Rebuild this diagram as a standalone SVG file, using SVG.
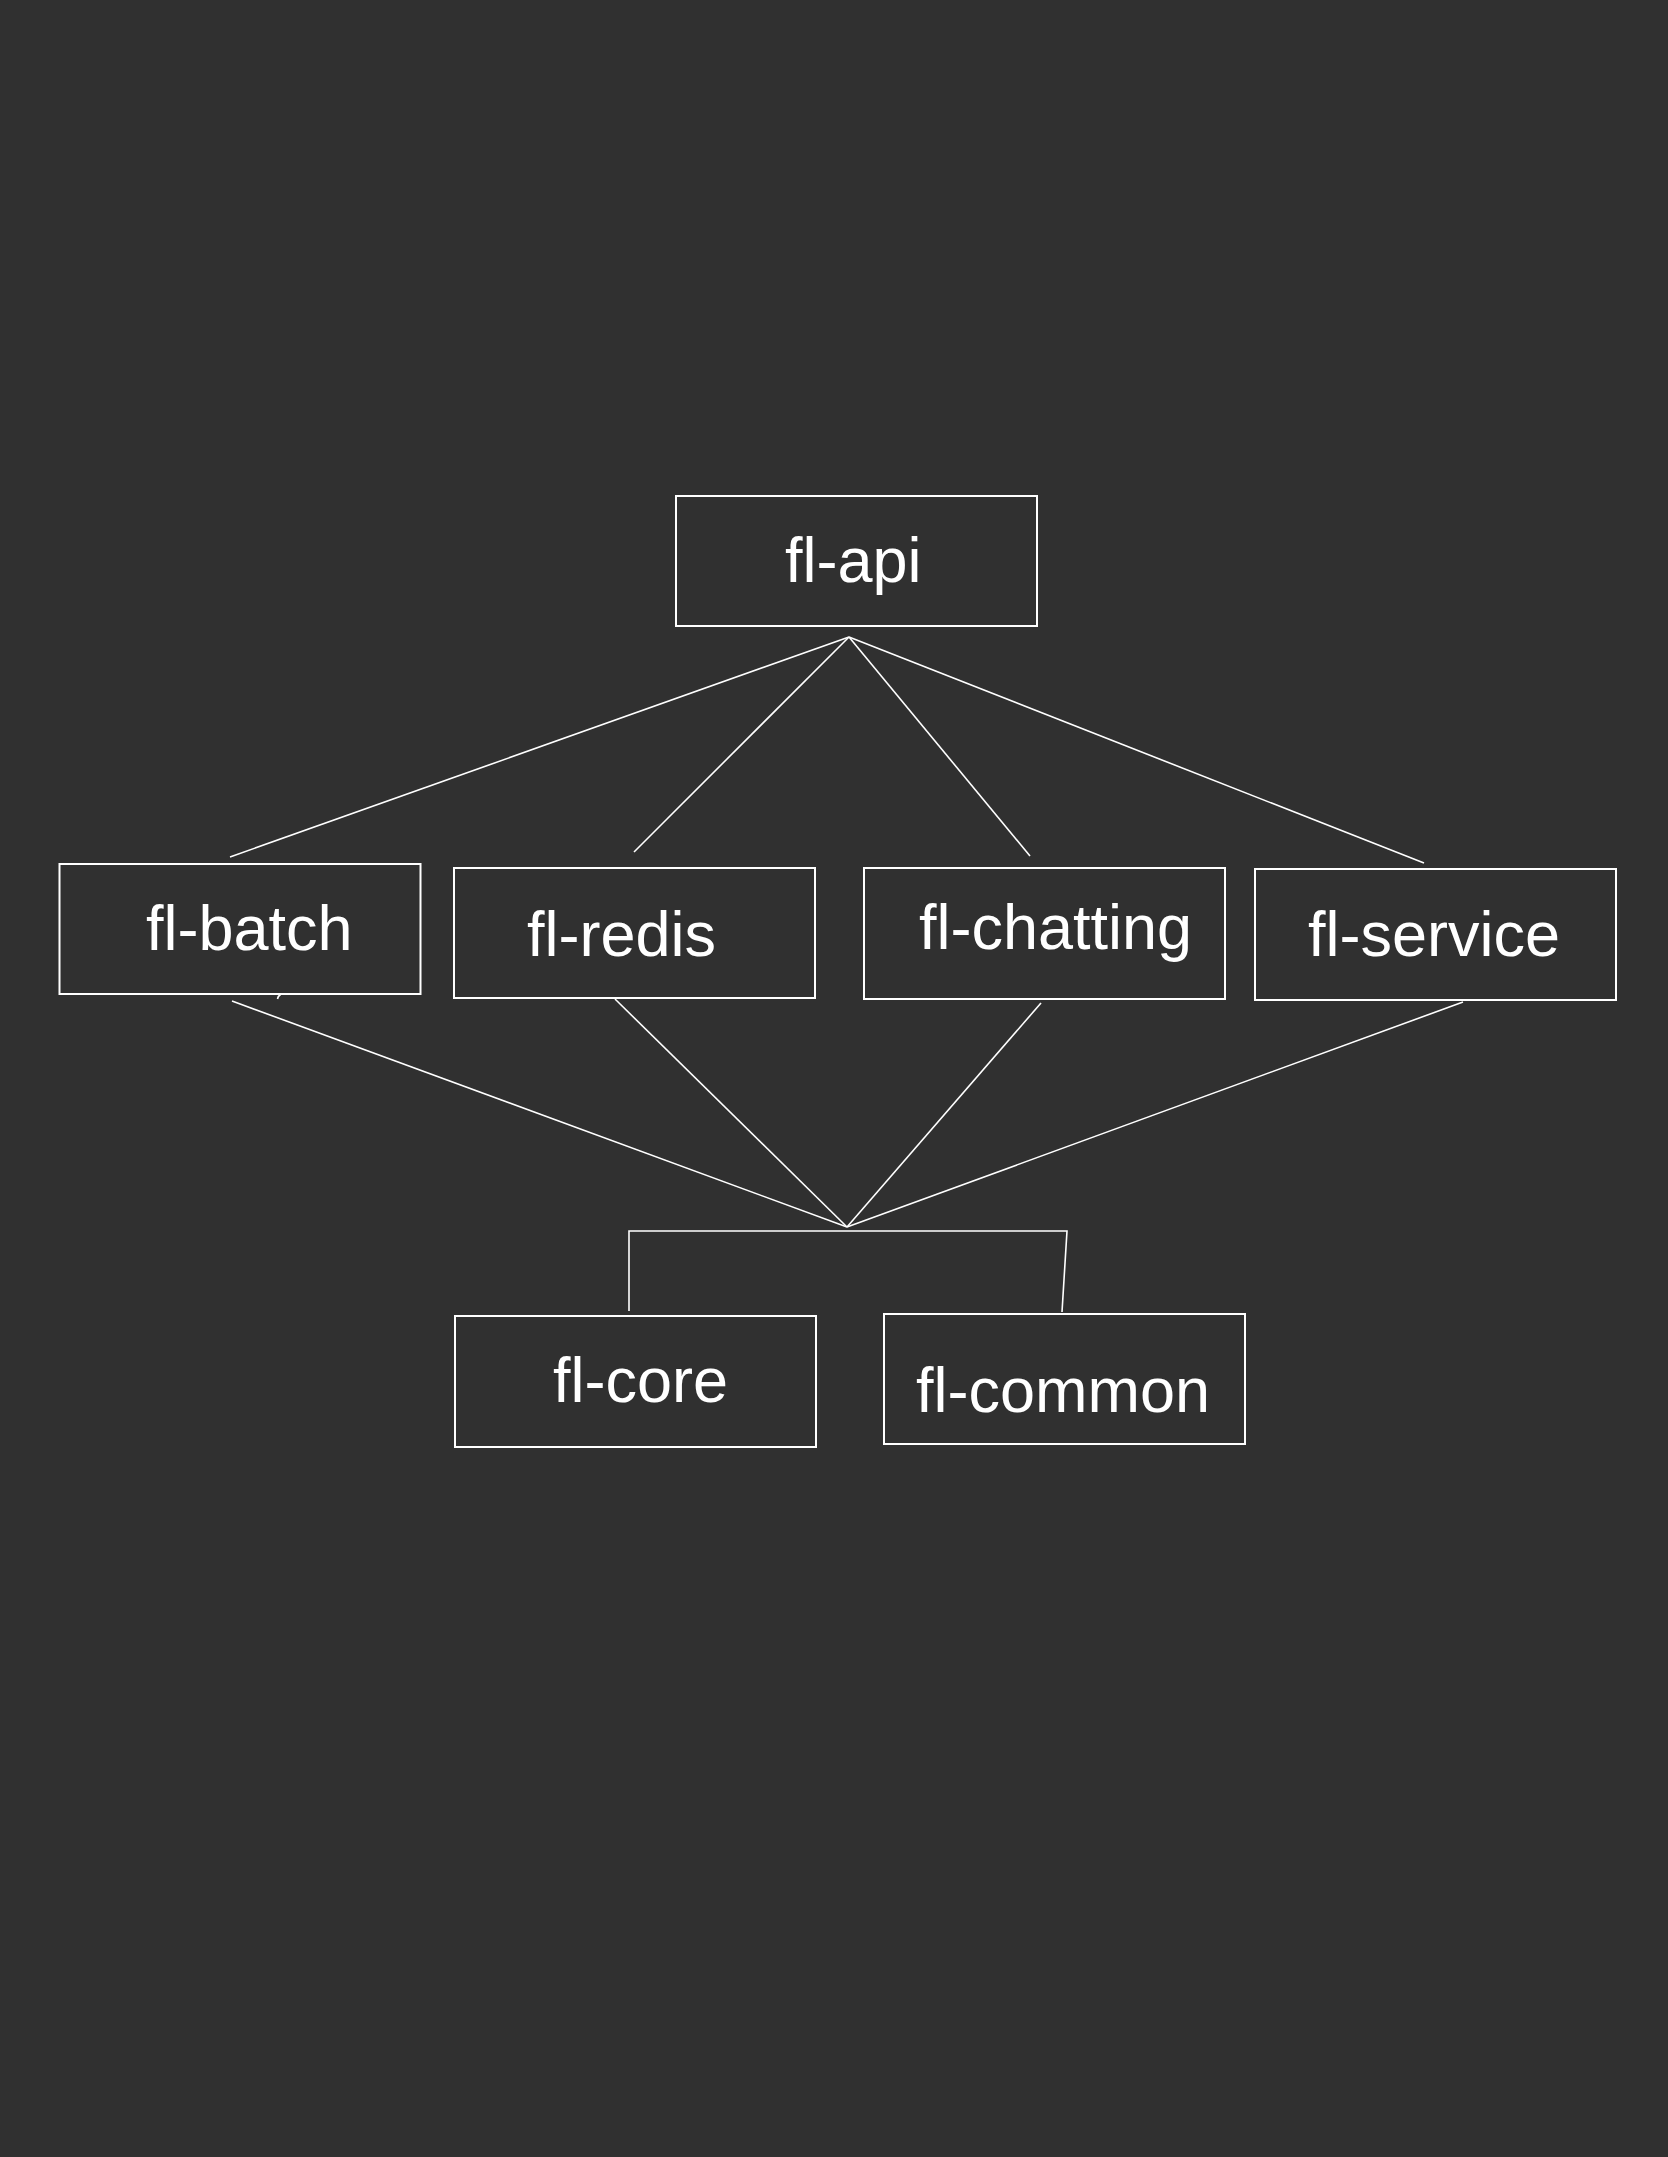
<svg xmlns="http://www.w3.org/2000/svg" width="1668" height="2157" viewBox="0 0 1668 2157">
<style>
.box{fill:none;stroke:#ffffff;stroke-width:2}
.lbl{fill:#ffffff;font-family:"Liberation Sans",Arial,Helvetica,sans-serif;font-size:63px}
.con{fill:none;stroke:#ffffff;stroke-width:1.6}
</style>
<rect x="0" y="0" width="1668" height="2157" fill="#303030"/>
<g id="connectors">
<path class="con" d="M849,637 L230,857"/>
<path class="con" d="M849,637 L634,852"/>
<path class="con" d="M849,637 L1030,856"/>
<path class="con" d="M849,637 L1424,863"/>
<path class="con" d="M232,1001 L847,1227"/>
<path class="con" d="M615,999 L847,1227"/>
<path class="con" d="M1041,1003 L847,1227"/>
<path class="con" d="M1463,1002 L847,1227"/>
<path class="con" d="M629,1311 L629,1231 L1067,1231 L1062,1312"/>
<path class="con" d="M281,994 Q278,996 277.5,999"/>
</g>
<g id="fl-api">
<rect class="box" x="676" y="496" width="361" height="130"/>
<text class="lbl" x="785" y="582">fl-api</text>
</g>
<g id="fl-batch">
<rect class="box" x="59.5" y="864" width="361" height="130"/>
<text class="lbl" x="146" y="950">fl-batch</text>
</g>
<g id="fl-redis">
<rect class="box" x="454" y="868" width="361" height="130"/>
<text class="lbl" x="527" y="956">fl-redis</text>
</g>
<g id="fl-chatting">
<rect class="box" x="864" y="868" width="361" height="131"/>
<text class="lbl" x="919" y="949">fl-chatting</text>
</g>
<g id="fl-service">
<rect class="box" x="1255" y="869" width="361" height="131"/>
<text class="lbl" x="1308" y="956">fl-service</text>
</g>
<g id="fl-core">
<rect class="box" x="455" y="1316" width="361" height="131"/>
<text class="lbl" x="553" y="1402">fl-core</text>
</g>
<g id="fl-common">
<rect class="box" x="884" y="1314" width="361" height="130"/>
<text class="lbl" x="916" y="1412">fl-common</text>
</g>
</svg>
